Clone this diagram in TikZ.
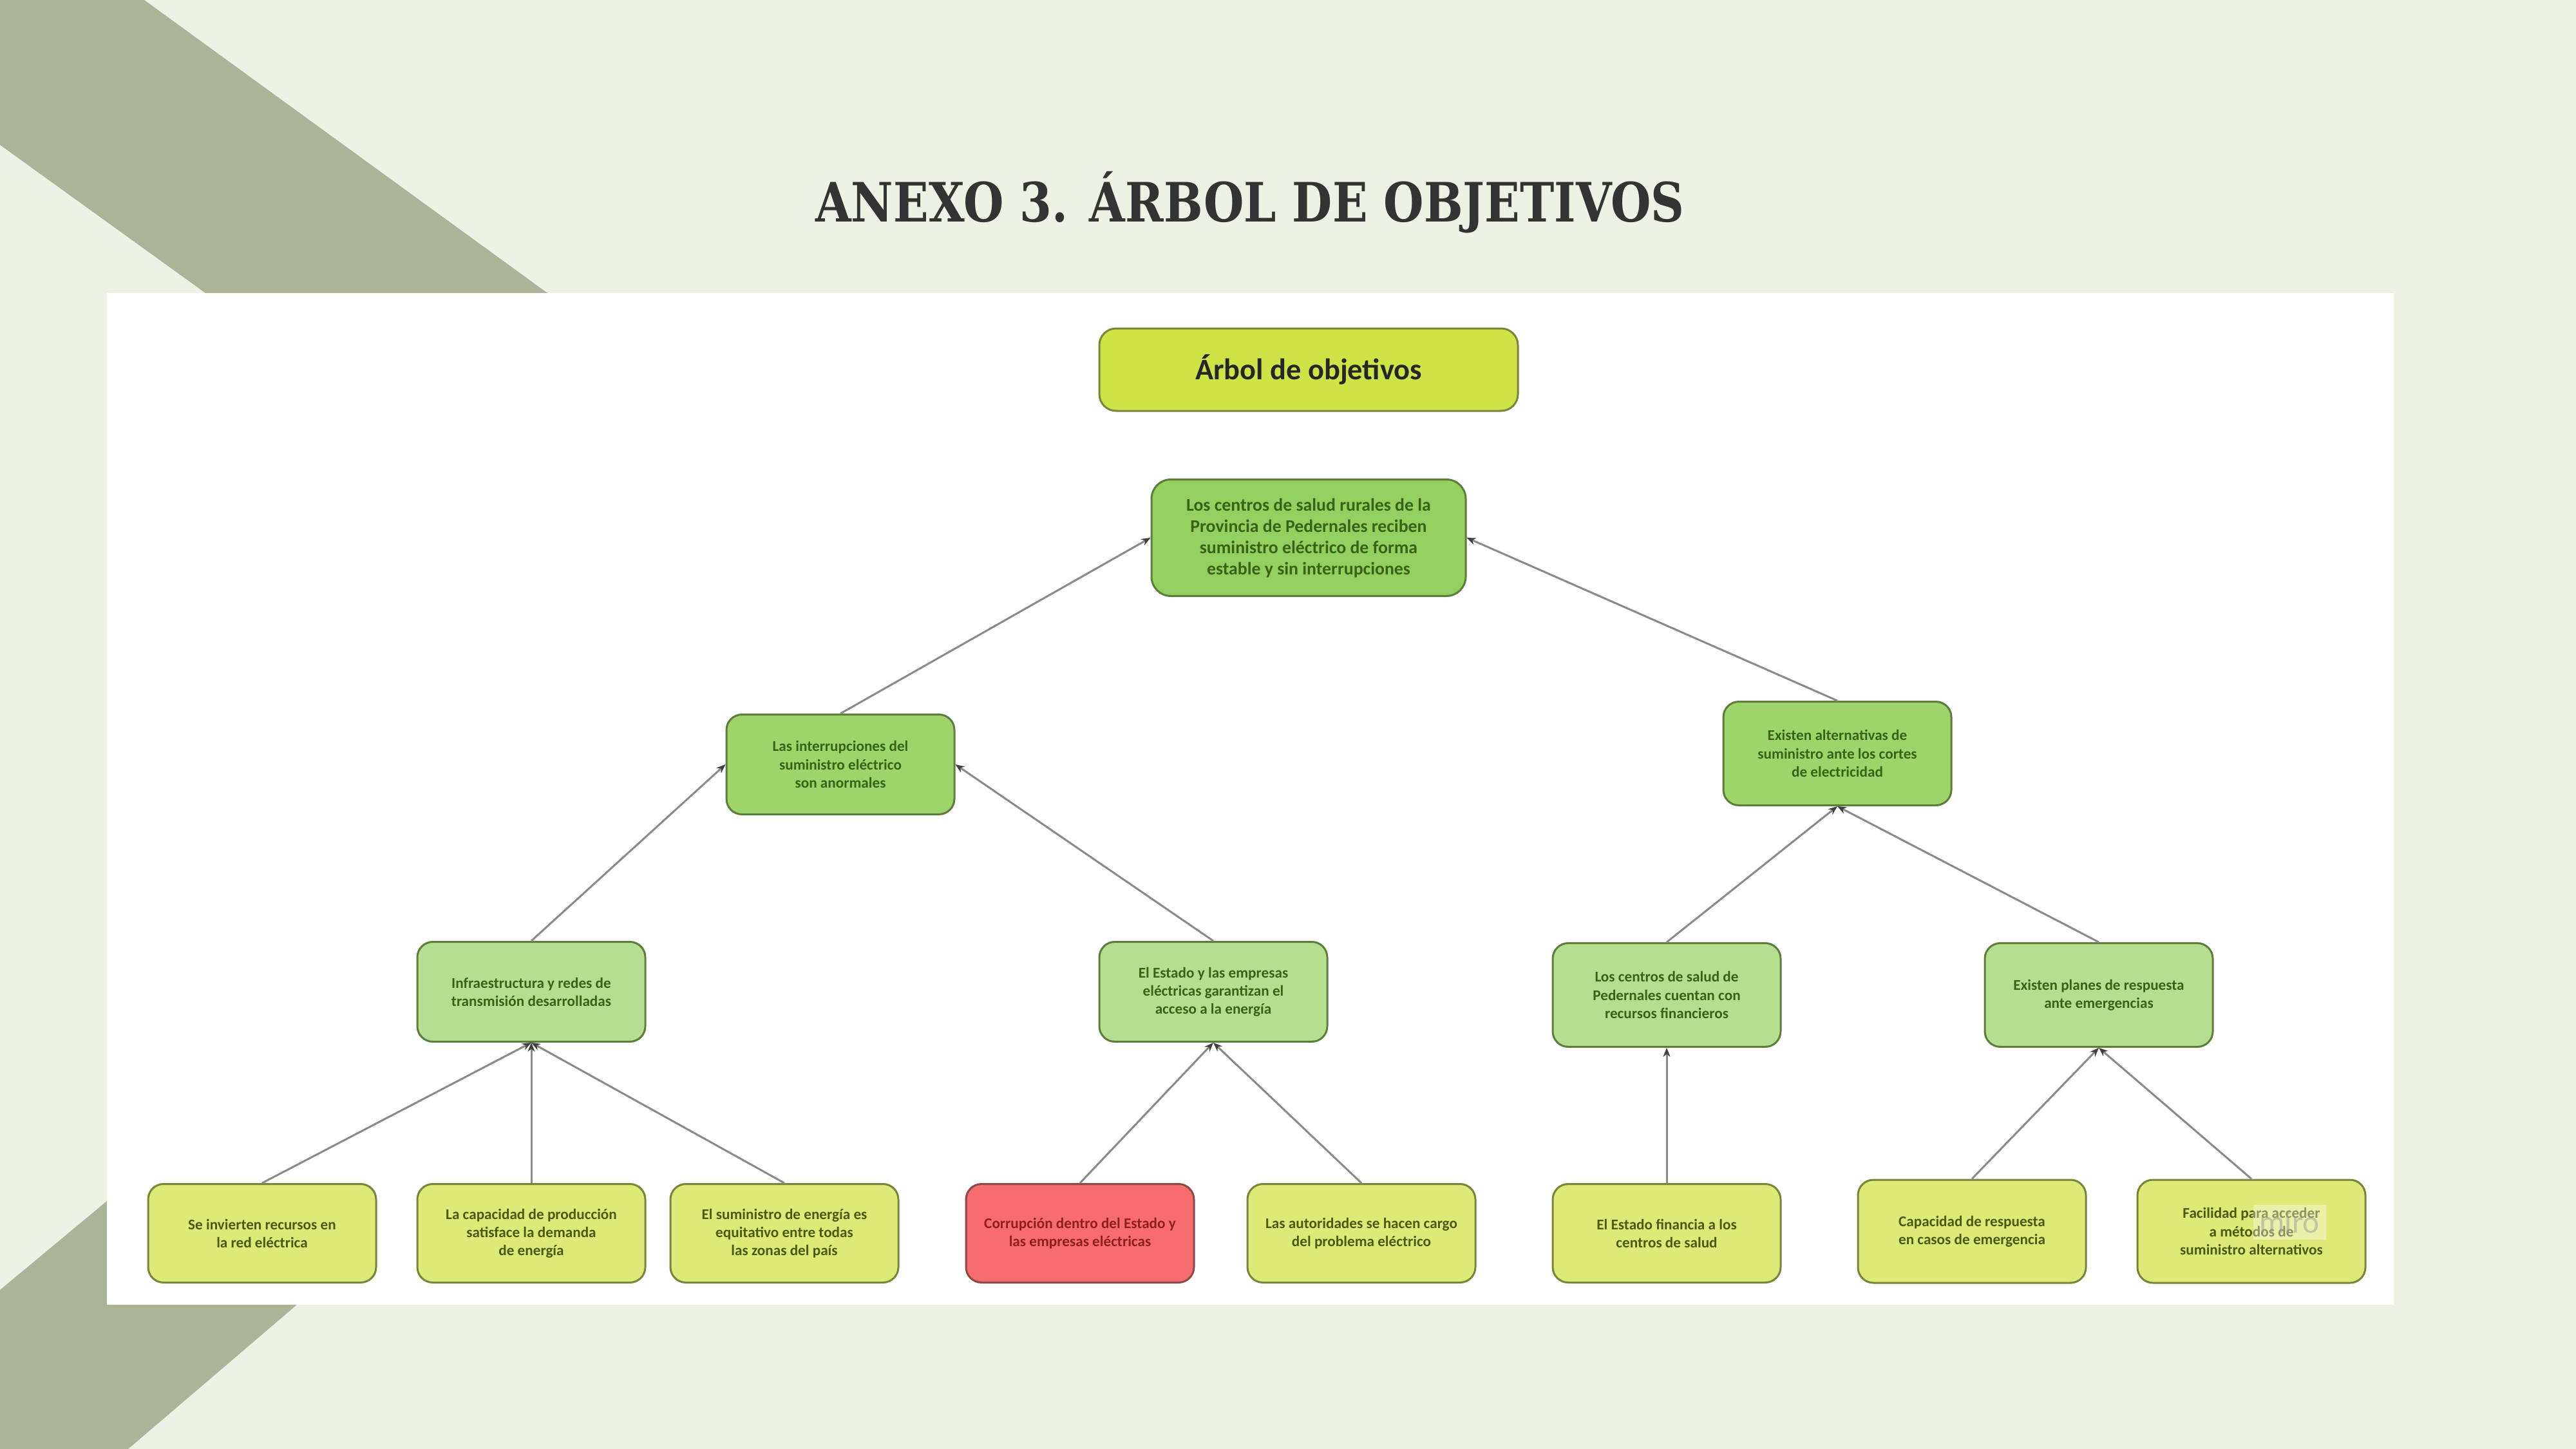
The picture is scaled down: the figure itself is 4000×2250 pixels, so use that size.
\documentclass[tikz,border=0pt]{standalone}
\usepackage{fontspec}
\setmainfont{Carlito}
\newfontfamily\titelfont[FakeStretch=0.85]{DejaVu Serif}
\usetikzlibrary{arrows.meta}

\definecolor{fondo}{HTML}{EEF1E6}
\definecolor{banda}{HTML}{ABB497}
\definecolor{titulo}{HTML}{333333}
\definecolor{cabeza}{HTML}{CDE346}
\definecolor{raiz}{HTML}{92D05F}
\definecolor{nivelA}{HTML}{9DD56B}
\definecolor{nivelB}{HTML}{B6DE90}
\definecolor{nivelC}{HTML}{DCEA78}
\definecolor{rojo}{HTML}{F76D6D}
\definecolor{bordeV}{HTML}{5E7D3C}
\definecolor{bordeA}{HTML}{7A843A}
\definecolor{bordeR}{HTML}{8A4A4A}
\definecolor{textoV}{HTML}{3A6118}
\definecolor{textoA}{HTML}{4E5812}
\definecolor{textoR}{HTML}{8E1F1F}
\definecolor{linea}{HTML}{8A8A8A}

\tikzset{
  caja/.style={draw=bordeV, fill=#1, line width=0.3mm, rounded corners=2.4mm,
    align=center, inner sep=0pt, text=textoV,
    minimum width=35.4mm, minimum height=15.5mm,
    font=\bfseries\fontsize{6.6}{8}\selectfont},
  hoja/.style={caja=#1, draw=bordeA, text=textoA, minimum height=15.3mm},
  flecha/.style={draw=linea, line width=0.3mm, -{Stealth[length=1.4mm,width=1.1mm,color=black!75]}}
}

\begin{document}
\begin{tikzpicture}[x=0.1mm,y=-0.1mm]
\useasboundingbox (0,0) rectangle (4000,2250);
\fill[fondo] (0,0) rectangle (4000,2250);

%Bandas
\fill[banda] (0,0) -- (224,0) -- (850,455) -- (319,455) -- (0,225) -- cycle;
\fill[banda] (0,2003) -- (166,1865) -- (461,2026) -- (199,2250) -- (0,2250) -- cycle;

%Titulo
\node[text=titulo, font=\titelfont\bfseries\fontsize{24}{28}\selectfont] (titulo) at (1941,314) {ANEXO 3. ÁRBOL DE OBJETIVOS};

%Lamina
\fill[white] (166,455) rectangle (3717,2026);

%Cabecera
\node[caja=cabeza, draw=bordeA, text=black!85, minimum width=65mm, minimum height=12.8mm,
  rounded corners=2.6mm, font=\bfseries\fontsize{13.2}{15}\selectfont] (cabecera) at (2032,574) {Árbol de objetivos};

%Objetivo central
\node[caja=raiz, minimum width=48.8mm, minimum height=18.1mm, rounded corners=3mm,
  font=\bfseries\fontsize{7.9}{9.4}\selectfont] (raiz) at (2032,835)
  {Los centros de salud rurales de la\\Provincia de Pedernales reciben\\suministro eléctrico de forma\\estable y sin interrupciones};

%Nivel 1
\node[caja=nivelA] (interr) at (1305,1187) {Las interrupciones del\\suministro eléctrico\\son anormales};
\node[caja=nivelA, minimum height=16.1mm] (altern) at (2853,1170) {Existen alternativas de\\suministro ante los cortes\\de electricidad};

%Nivel 2
\node[caja=nivelB] (infra) at (825,1540) {Infraestructura y redes de\\transmisión desarrolladas};
\node[caja=nivelB] (estado) at (1884,1540) {El Estado y las empresas\\eléctricas garantizan el\\acceso a la energía};
\node[caja=nivelB, minimum height=16.1mm] (centros) at (2588,1545) {Los centros de salud de\\Pedernales cuentan con\\recursos financieros};
\node[caja=nivelB, minimum height=16.1mm] (planes) at (3259,1545) {Existen planes de respuesta\\ante emergencias};

%Nivel 3
\node[hoja=nivelC] (invierten) at (407,1915) {Se invierten recursos en\\la red eléctrica};
\node[hoja=nivelC] (capacidad) at (825,1915) {La capacidad de producción\\satisface la demanda\\de energía};
\node[hoja=nivelC] (equitativo) at (1218,1915) {El suministro de energía es\\equitativo entre todas\\las zonas del país};
\node[hoja=rojo, draw=bordeR, text=textoR] (corrupcion) at (1677,1915) {Corrupción dentro del Estado y\\las empresas eléctricas};
\node[hoja=nivelC] (autoridades) at (2114,1915) {Las autoridades se hacen cargo\\del problema eléctrico};
\node[hoja=nivelC] (financia) at (2588,1915) {El Estado financia a los\\centros de salud};
\node[hoja=nivelC, minimum height=16mm] (respuesta) at (3062,1912) {Capacidad de respuesta\\en casos de emergencia};
\node[hoja=nivelC, minimum height=16mm] (facilidad) at (3496,1912) {Facilidad para acceder\\a métodos de\\suministro alternativos};
%marca de agua
\node[fill=white, fill opacity=0.35, text=black!40, text opacity=0.5, inner sep=1mm,
  font=\fontsize{14}{14}\selectfont] (miro) at (3555,1898) {miro};

%Flechas
\draw[flecha] (interr.north) -- (raiz.west);
\draw[flecha] (altern.north) -- (raiz.east);
\draw[flecha] (infra.north) -- (interr.west);
\draw[flecha] (estado.north) -- (interr.east);
\draw[flecha] (centros.north) -- (altern.south);
\draw[flecha] (planes.north) -- (altern.south);
\foreach \hijo in {invierten,capacidad,equitativo}
  \draw[flecha] (\hijo.north) -- (infra.south);
\foreach \hijo in {corrupcion,autoridades}
  \draw[flecha] (\hijo.north) -- (estado.south);
\draw[flecha] (financia.north) -- (centros.south);
\foreach \hijo in {respuesta,facilidad}
  \draw[flecha] (\hijo.north) -- (planes.south);

\end{tikzpicture}
\end{document}
